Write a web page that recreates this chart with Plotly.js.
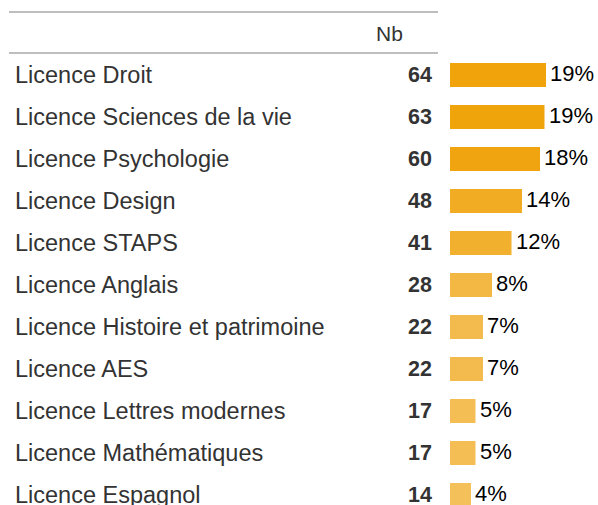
<!DOCTYPE html>
<html>
<head>
<meta charset="utf-8">
<script src="https://cdn.plot.ly/plotly-3.0.1.min.js"></script>
<style>html,body{margin:0;padding:0;background:#fff;}</style>
</head>
<body>
<div id="chart" style="width:598px;height:505px;"></div>
<script>
const categories = ["Licence Droit","Licence Sciences de la vie","Licence Psychologie","Licence Design","Licence STAPS","Licence Anglais","Licence Histoire et patrimoine","Licence AES","Licence Lettres modernes","Licence Mathématiques","Licence Espagnol"];
const counts = [64,63,60,48,41,28,22,22,17,17,14];
const percents = ["19%","19%","18%","14%","12%","8%","7%","7%","5%","5%","4%"];
const headerLabel = "Nb";

const W = 598, H = 505;
const font = "Liberation Sans, Arial, Helvetica, sans-serif";
const rowTop = 75, rowStep = 42;

const annotations = [];
categories.forEach((c, i) => {
  annotations.push({xref:'paper', yref:'y', x: 13/W, y: c, xanchor:'left', yanchor:'middle', yshift:0.5,
    text: c, showarrow:false, font:{family:font, size:23.5, color:'#333333'}});
  annotations.push({xref:'paper', yref:'y', x: 434/W, y: c, xanchor:'right', yanchor:'middle', yshift:0.5,
    text: '<b>' + counts[i] + '</b>', showarrow:false, font:{family:font, size:21.5, color:'#333333'}});
  annotations.push({xref:'x', yref:'y', x: counts[i], y: c, xanchor:'left', yanchor:'middle', xshift:2, yshift:1.5,
    text: percents[i], showarrow:false, font:{family:font, size:22, color:'#000000'}});
});
annotations.push({xref:'paper', yref:'paper', x: 405/W, y: 1 - 33/H, xanchor:'right', yanchor:'middle',
  text: headerLabel, showarrow:false, font:{family:font, size:21, color:'#333333'}});

const trace = {
  type:'bar', orientation:'h',
  x: counts, y: categories,
  width: 24/rowStep,
  marker:{color: counts, colorscale:[[0,'#F4C05A'],[1,'#F0A30A']], cmin:14, cmax:64, line:{width:0}},
  hoverinfo:'none'
};

const layout = {
  width: W, height: H,
  margin:{l:0, r:0, t:0, b:0},
  paper_bgcolor:'#ffffff', plot_bgcolor:'rgba(0,0,0,0)',
  showlegend:false,
  xaxis:{domain:[450/W, 1], range:[0, (W-450)/1.5], visible:false, fixedrange:true},
  yaxis:{type:'category', categoryorder:'array', categoryarray: categories,
    range:[(H-rowTop)/rowStep, -rowTop/rowStep], visible:false, fixedrange:true},
  annotations: annotations,
  shapes:[
    {type:'line', xref:'paper', yref:'paper', x0:9/W, x1:438/W, y0:1-12/H, y1:1-12/H, line:{color:'#A8A8A8', width:1.5}},
    {type:'line', xref:'paper', yref:'paper', x0:9/W, x1:438/W, y0:1-53/H, y1:1-53/H, line:{color:'#A8A8A8', width:1.5}}
  ]
};

Plotly.newPlot('chart', [trace], layout, {displayModeBar:false, staticPlot:true});
</script>
</body>
</html>
